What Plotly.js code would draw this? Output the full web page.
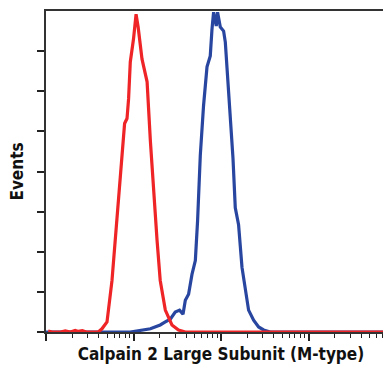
<!DOCTYPE html>
<html>
<head>
<meta charset="utf-8">
<script src="https://cdn.plot.ly/plotly-3.0.1.min.js"></script>
<style>
html,body{margin:0;padding:0;overflow:hidden;background:#fff;}
#chart{width:400px;height:369px;}
</style>
</head>
<body>
<div id="chart"></div>
<script>
// Isotype control (red)
var controlX = [1.06,1.18,1.46,1.66,1.90,2.16,2.34,2.60,2.89,3.21,3.96,4.36,4.98,5.68,6.19,6.76,7.39,7.91,8.43,8.79,9.19,10.0,10.7,11.3,12.5,14.3,15.6,17.0,18.6,20.2,23.1,27.5,32.7,39.1,58.0,200,2000,10000];
var controlY = [0.5,0,0,0.5,0,0.8,0.3,0.7,0,0,0,1.6,5.0,25.7,45.5,68.3,90.1,103.9,106.4,116.3,134.6,146.0,158.4,152.0,136.1,124.7,95.0,68.3,45.5,25.7,10.9,3.5,1.0,0,0,0,0,0];
// Calpain 2 antibody (blue)
var stainX = [1.0,4.18,9.19,15.6,17.7,20.2,23.1,26.3,30.0,33.6,36.8,39.1,42.6,46.6,50.9,54.0,58.0,63.2,69.2,75.4,78.9,82.3,88.3,91.4,98.2,107.1,112.0,118.9,127.7,137.1,145.6,158.8,173.8,189.6,206.7,235.9,269.2,307.0,365.9,10000];
var stainY = [0,0,0,1.6,2.5,3.5,5.0,6.4,9.9,10.9,8.9,15.8,18.8,28.7,35.6,55.4,88.1,112.9,132.2,137.6,151.0,159.4,152.5,159.4,152.0,150.0,144.5,127.7,107.9,86.6,61.9,53.5,32.2,20.8,10.9,5.9,2.5,1.0,0,0];
var yTicks = [0,20,40,60,80,100,120,140];
var xMajorTicks = [1,10,100,1000,10000];
var xTitle = "Calpain 2 Large Subunit (M-type)";
var yTitle = "Events";

var fontFam = "'Liberation Sans Narrow', 'DejaVu Sans Condensed', 'Arial Narrow', sans-serif";

var traces = [
  {x: stainX, y: stainY, type: 'scatter', mode: 'lines',
   line: {color: 'rgb(40,70,160)', width: 3.2}, hoverinfo: 'skip'},
  {x: controlX, y: controlY, type: 'scatter', mode: 'lines',
   line: {color: 'rgb(238,36,38)', width: 3.2}, hoverinfo: 'skip'}
];

var layout = {
  width: 400, height: 369,
  margin: {l: 46, r: 4, t: 11, b: 37},
  showlegend: false,
  paper_bgcolor: '#fff', plot_bgcolor: '#fff',
  xaxis: {
    type: 'log', range: [0, 4],
    showgrid: false, zeroline: false,
    showline: true, linecolor: '#333', linewidth: 2, mirror: true,
    ticks: 'outside', ticklen: 7, tickwidth: 2, tickcolor: '#222',
    tickvals: xMajorTicks, showticklabels: false,
    minor: {ticks: 'outside', ticklen: 4, tickwidth: 1, tickcolor: '#222', dtick: 'D1', showgrid: false},
    title: {text: xTitle, standoff: 8, font: {family: fontFam, size: 17, color: '#111', weight: 'bold'}}
  },
  yaxis: {
    range: [0, 160],
    showgrid: false, zeroline: false,
    showline: true, linecolor: '#333', linewidth: 2,
    ticks: 'outside', ticklen: 7, tickwidth: 2, tickcolor: '#222',
    tickvals: yTicks, showticklabels: false,
    title: {text: yTitle, standoff: 9, font: {family: fontFam, size: 17, color: '#111', weight: 'bold'}}
  }
};

Plotly.newPlot('chart', traces, layout, {staticPlot: true, displayModeBar: false});
</script>
</body>
</html>
